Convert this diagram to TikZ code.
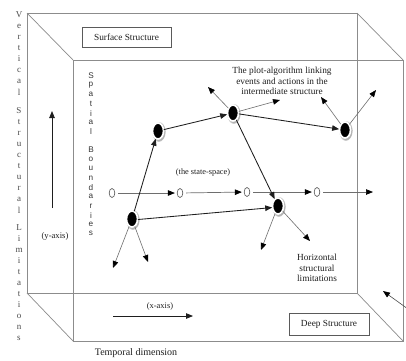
\documentclass[tikz,border=0pt]{standalone}
\usepackage{fontspec}
\setmainfont{Liberation Serif}
\setsansfont{Liberation Sans}
\usetikzlibrary{arrows.meta,shapes.geometric,shadows}

\definecolor{framegray}{HTML}{8C8C8C}
\definecolor{boxgray}{HTML}{5A5A5A}
\definecolor{inkc}{HTML}{1E1E1E}
\definecolor{thingray}{HTML}{6E6E6E}

\tikzset{
  frameline/.style={draw=framegray, line width=0.7pt},
  labelbox/.style={draw=boxgray, line width=0.8pt, fill=white, font=\fontsize{9.3}{11}\selectfont,
    text=inkc, inner sep=0pt},
  caption/.style={font=\fontsize{9.3}{10.6}\selectfont, text=inkc, align=center, inner sep=0pt},
  vletter/.style={font=\fontsize{9}{10}\selectfont, text=inkc!80, inner sep=0pt},
  sletter/.style={font=\sffamily\fontsize{8.2}{9}\selectfont, text=inkc!90, inner sep=0pt},
  blob/.style={ellipse, fill=black, draw=white, line width=1.7pt, minimum width=11pt,
    minimum height=16pt, inner sep=0pt, outer sep=0.4pt,
    circular drop shadow={shadow xshift=0.5pt, shadow yshift=-0.5pt, shadow scale=1.3, opacity=0.6}},
  stateo/.style={ellipse, draw=inkc!75, line width=0.65pt, minimum width=5.6pt,
    minimum height=9pt, inner sep=0pt},
  edge/.style={draw=inkc, line width=0.85pt, -{Triangle[length=7pt,width=5.5pt]}},
  freearrow/.style={draw=thingray, line width=0.6pt,
    -{Triangle[length=7pt,width=5.5pt,color=black]}},
  statearrow/.style={draw=thingray, line width=0.7pt,
    -{Triangle[length=7pt,width=5.5pt,color=black]}, shorten <=3pt, shorten >=2pt},
}

\begin{document}
\begin{tikzpicture}[x=1pt,y=-1pt]
\useasboundingbox (0,0) rectangle (406,360);
\fill[white] (0,0) rectangle (406,360);

% the box: front and back faces joined at the corners
\coordinate (fa) at (27,13);  \coordinate (fb) at (357,13);
\coordinate (fc) at (357,293); \coordinate (fd) at (27,293);
\coordinate (ba) at (73,60);  \coordinate (bb) at (403,60);
\coordinate (bc) at (403,341); \coordinate (bd) at (73,341);
\draw[frameline] (fa) -- (fb) -- (fc) -- (fd) -- cycle;
\draw[frameline] (ba) -- (bb) -- (bc) -- (bd) -- cycle;
\draw[frameline] (fa) -- (ba) (fb) -- (bb) (fc) -- (bc) (fd) -- (bd);

% labelled boxes
\node[labelbox, minimum width=89pt, minimum height=20pt] (surface) at (126.5,37) {Surface Structure};
\node[labelbox, minimum width=80pt, minimum height=22pt] (deep) at (329,324) {Deep Structure};

% vertical lettering on the left
\foreach \c [count=\k from 0] in {V,e,r,t,i,c,a,l}
  \node[vletter] (va\k) at (19,15+11*\k) {\c};
\foreach \c [count=\k from 0] in {S,t,r,u,c,t,u,r,a,l}
  \node[vletter] (vb\k) at (19,111+11*\k) {\c};
\foreach \c [count=\k from 0] in {L,i,m,i,t,a,t,i,o,n,s}
  \node[vletter] (vc\k) at (19,228+11*\k) {\c};

\foreach \c [count=\k from 0] in {S,p,a,t,i,a,l}
  \node[sletter] (sa\k) at (91,76+9.3*\k) {\c};
\foreach \c [count=\k from 0] in {B,o,u,n,d,a,r,i,e,s}
  \node[sletter] (sb\k) at (91,150+9.3*\k) {\c};

% axes
\node[caption, font=\fontsize{8.6}{10}\selectfont] (ylab) at (55,236) {(y-axis)};
\coordinate (ybot) at (52,208); \coordinate (ytop) at (52,111);
\draw[edge, line width=0.8pt] (ybot) -- (ytop);
\node[caption, font=\fontsize{8.4}{10}\selectfont] (xlab) at (160,306) {(x-axis)};
\coordinate (xl) at (113,316); \coordinate (xr) at (193,316);
\draw[edge, line width=0.8pt] (xl) -- (xr);
\node[caption, font=\fontsize{10}{12}\selectfont] (temporal) at (136,353.5) {Temporal dimension};

% captions
\node[caption] (plot) at (282,81) {The plot-algorithm linking\\events and actions in the\\intermediate structure};
\node[caption] (horiz) at (317,268) {Horizontal\\structural\\limitations};
\node[caption, font=\fontsize{8.3}{10}\selectfont] (statespace) at (203,172) {(the state-space)};

% the state-space sequence
\node[stateo] (o1) at (112,193) {};
\node[stateo] (o2) at (180,193) {};
\node[stateo] (o3) at (247,192) {};
\node[stateo] (o4) at (317,192) {};
\coordinate (oend) at (373,192);
\draw[statearrow] (o1) -- (o2);
\draw[statearrow] (o2) -- (o3);
\draw[statearrow] (o3) -- (o4);
\draw[statearrow, shorten >=0pt] (o4) -- (oend);

% events
\node[blob] (n1) at (158,131) {};
\node[blob] (n2) at (233,113) {};
\node[blob] (n3) at (345,130) {};
\node[blob] (n4) at (132,219) {};
\node[blob] (n5) at (278,206) {};

\draw[edge] (n4) -- (n1);
\draw[edge] (n1) -- (n2);
\draw[edge] (n2) -- (n3);
\draw[edge] (n2) -- (n5);
\draw[edge] (n4.-5) -- (n5.195);

% loose ends
\coordinate (t4a) at (113,268); \coordinate (t4b) at (148,262);
\coordinate (t2a) at (208,87);  \coordinate (t2b) at (280,100);
\coordinate (t3a) at (321,97);  \coordinate (t3b) at (376,90);
\coordinate (t5a) at (261,250); \coordinate (t5b) at (310,241);
\draw[freearrow] (n4) -- (t4a);
\draw[freearrow] (n4) -- (t4b);
\draw[freearrow] (n2) -- (t2a);
\draw[freearrow] (n2) -- (t2b);
\draw[freearrow] (n3) -- (t3a);
\draw[freearrow] (n3) -- (t3b);
\draw[freearrow] (n5) -- (t5a);
\draw[freearrow] (n5) -- (t5b);

\coordinate (cornerin) at (408,309); \coordinate (cornertip) at (383,291);
\draw[freearrow, draw=inkc!80] (cornerin) -- (cornertip);
\end{tikzpicture}
\end{document}
